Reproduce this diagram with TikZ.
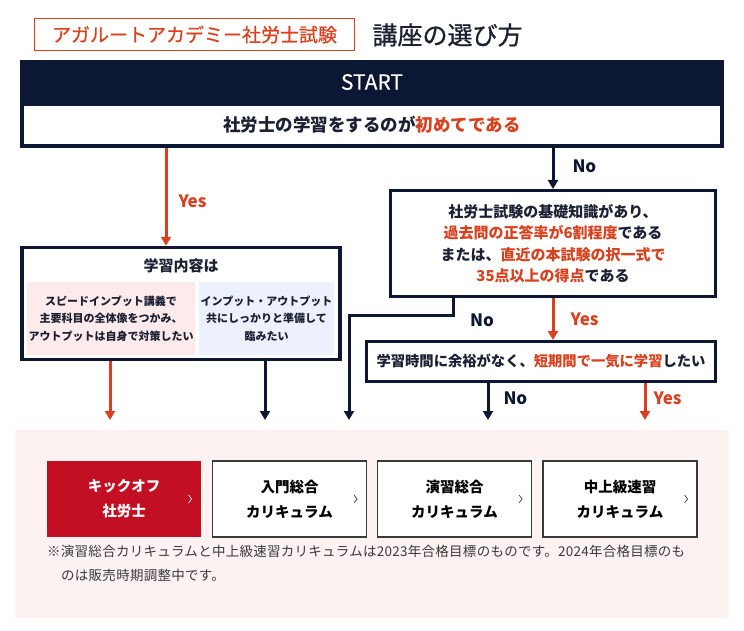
\documentclass[tikz,border=0pt]{standalone}
\usepackage{fontspec}
\setmainfont{Noto Sans CJK JP}
\usetikzlibrary{arrows.meta, positioning}

\definecolor{navy}{HTML}{0C1734}
\definecolor{accent}{HTML}{D9411E}
\definecolor{kickred}{HTML}{C30F24}
\definecolor{pinkbg}{HTML}{FDF2F2}
\definecolor{pinkbox}{HTML}{FCEBEA}
\definecolor{bluebox}{HTML}{EDF1FD}
\definecolor{inktext}{HTML}{1B2033}
\definecolor{btngray}{HTML}{3A3A3A}

\tikzset{
  qbox/.style={draw=navy, line width=3.5pt, fill=white, inner sep=0pt, text=inktext,
    font=\bfseries\fontsize{15}{21.5}\selectfont, align=center},
  subbox/.style={inner sep=0pt, minimum height=73pt, text=inktext, align=center,
    font=\bfseries\fontsize{11}{17.5}\selectfont},
  btn/.style={draw=btngray, line width=1.2pt, fill=white, minimum width=154pt,
    minimum height=76pt, inner sep=0pt, align=center, text=black,
    font=\bfseries\fontsize{14.5}{25}\selectfont},
  yesline/.style={draw=accent, line width=3pt, ->},
  noline/.style={draw=navy, line width=3pt, ->},
  yeslbl/.style={text=accent, font=\bfseries\fontsize{17}{17}\selectfont, inner sep=0pt},
  nolbl/.style={text=navy, font=\bfseries\fontsize{17}{17}\selectfont, inner sep=0pt},
  chev/.style={draw=btngray, line width=0.7pt},
}

\begin{document}
\begin{tikzpicture}[x=1pt, y=-1pt, >={Triangle[width=10pt, length=9pt]}]
\useasboundingbox (0,0) rectangle (744,631);

% heading
\node[draw=accent, line width=1.5pt, minimum width=320pt, minimum height=32pt, inner sep=0pt,
  text=accent, font=\fontsize{19}{19}\selectfont\addfontfeatures{FakeBold=0.6}] (brand) at (194.5,34.5) {アガルートアカデミー社労士試験};
\node[text=inktext, font=\fontsize{25}{25}\selectfont\addfontfeatures{FakeBold=0.8}, anchor=west] (title) at (369,35) {講座の選び方};

% start block
\node[fill=navy, minimum width=704pt, minimum height=44pt, inner sep=0pt, text=white,
  font=\fontsize{21}{21}\selectfont\addfontfeatures{FakeBold=0.4}] (start) at (372,82) {START};
\node[qbox, line width=4pt, minimum width=700pt, minimum height=42pt,
  font=\bfseries\fontsize{17.5}{18}\selectfont] (q1) at (372,125)
  {社労士の学習をするのが\textcolor{accent}{初めてである}};

% second level
\node[qbox, minimum width=318pt, minimum height=112pt] (q2) at (181,303.5) {};
\node[text=inktext, font=\bfseries\fontsize{15}{16}\selectfont] (q2title) at (181,266) {学習内容は};
\node[subbox, fill=pinkbox, minimum width=168pt] (speed) at (111,318.5)
  {スピードインプット講義で\\主要科目の全体像をつかみ、\\アウトプットは自身で対策したい};
\node[subbox, fill=bluebox, minimum width=135pt] (both) at (266.5,318.5)
  {インプット・アウトプット\\共にしっかりと準備して\\臨みたい};

\node[qbox, line width=3pt, minimum width=325pt, minimum height=106pt] (q3) at (553,243.5)
  {社労士試験の基礎知識があり、\\
   \textcolor{accent}{過去問の正答率が6割程度}である\\
   または、\textcolor{accent}{直近の本試験の択一式で}\\
   \textcolor{accent}{35点以上の得点}である};

\node[qbox, line width=3pt, minimum width=349pt, minimum height=40pt,
  font=\bfseries\fontsize{14.3}{15}\selectfont] (q4) at (541,361.5)
  {学習時間に余裕がなく、\textcolor{accent}{短期間で一気に学習}したい};

% courses area
\fill[pinkbg] (15,430) rectangle (729,618);
\node[btn, draw=none, fill=kickred, text=white] (kick) at (124,499) {キックオフ\\社労士};
\node[btn] (intro) at (289.5,499) {入門総合\\カリキュラム};
\node[btn] (drill) at (454.5,499) {演習総合\\カリキュラム};
\node[btn] (fast) at (620,499) {中上級速習\\カリキュラム};
\draw[chev, draw=white] ([xshift=-13pt, yshift=4pt]kick.east) -- ([xshift=-10pt]kick.east) -- ([xshift=-13pt, yshift=-4pt]kick.east);
\draw[chev] ([xshift=-13pt, yshift=4pt]intro.east) -- ([xshift=-10pt]intro.east) -- ([xshift=-13pt, yshift=-4pt]intro.east);
\draw[chev] ([xshift=-13pt, yshift=4pt]drill.east) -- ([xshift=-10pt]drill.east) -- ([xshift=-13pt, yshift=-4pt]drill.east);
\draw[chev] ([xshift=-13pt, yshift=4pt]fast.east) -- ([xshift=-10pt]fast.east) -- ([xshift=-13pt, yshift=-4pt]fast.east);

\node[anchor=base west, align=left, inner sep=0pt, text=btngray,
  font=\fontsize{13.5}{24}\selectfont\addfontfeatures{LetterSpace=2}] (note) at (47,580)
  {※演習総合カリキュラムと中上級速習カリキュラムは2023年合格目標のものです。2024年合格目標のも\\
   \hspace*{14pt}のは販売時期調整中です。};

% where the arrows run
\coordinate (xyes) at (166,0);
\coordinate (xno) at (553,0);
\coordinate (xback) at (453,0);
\coordinate (bend) at (349,315);
\coordinate (tipA) at (110,420);
\coordinate (tipB) at (265,420);
\coordinate (tipC) at (349,420);
\coordinate (tipD) at (488,420);
\coordinate (tipE) at (645,420);

% connectors
\draw[yesline] (q1.south -| xyes) -- (q2.north -| xyes) node[yeslbl, pos=0.55, right=11pt] {Yes};
\draw[noline] (q1.south -| xno) -- (q3.north -| xno) node[nolbl, pos=0.45, right=18pt] {No};
\draw[yesline] (q3.south -| xno) -- (q4.north -| xno) node[yeslbl, pos=0.5, right=16pt] {Yes};
\draw[noline] (q3.south -| xback) |- (bend) -- (tipC);
\node[nolbl] (nolbl) at (482,320) {No};
\draw[noline] (q4.south -| tipD) -- (tipD) node[nolbl, pos=0.42, right=14pt] {No};
\draw[yesline] (q4.south -| tipE) -- (tipE) node[yeslbl, pos=0.42, right=7pt] {Yes};
\draw[yesline] (q2.south -| tipA) -- (tipA);
\draw[noline] (q2.south -| tipB) -- (tipB);

\end{tikzpicture}
\end{document}
